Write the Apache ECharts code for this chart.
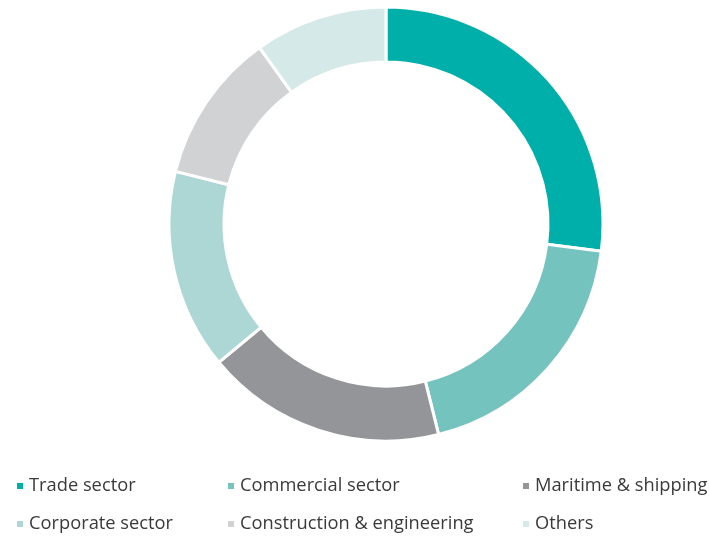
<!DOCTYPE html>
<html><head><meta charset="utf-8">
<script src="https://cdn.jsdelivr.net/npm/echarts@6/dist/echarts.min.js"></script>
<style>html,body{margin:0;padding:0;background:#fff}#c{width:709px;height:536px}</style>
</head><body><div id="c"></div>
<script>
const categories = ["Trade sector","Commercial sector","Maritime & shipping","Corporate sector","Construction & engineering","Others"];
const values = [27.0, 19.1, 17.9, 14.9, 11.2, 9.9];
const colors = ["#00AFAA","#74C3BE","#949598","#ACD7D5","#D1D2D4","#D5E9E9"];
const legendPos = [[10,472],[221,472],[516,472],[10,510],[221,510],[516,510]];

const chart = echarts.init(document.getElementById('c'));
chart.setOption({
  animation:false,
  color: colors,
  legend: categories.map((n,i)=>({
    data:[n], left: legendPos[i][0], top: legendPos[i][1],
    icon:'rect', itemWidth:8, itemHeight:8, itemGap:6,
    textStyle:{fontFamily:'Open Sans', fontSize:18.3, color:'#3a3a3a'}
  })),
  series:[{
    type:'pie', center:[386,224], radius:[162,217], startAngle:90, clockwise:true,
    label:{show:false}, labelLine:{show:false}, emphasis:{disabled:true},
    itemStyle:{borderColor:'#fff', borderWidth:3},
    data: categories.map((n,i)=>({name:n, value:values[i]}))
  }]
});
</script></body></html>
